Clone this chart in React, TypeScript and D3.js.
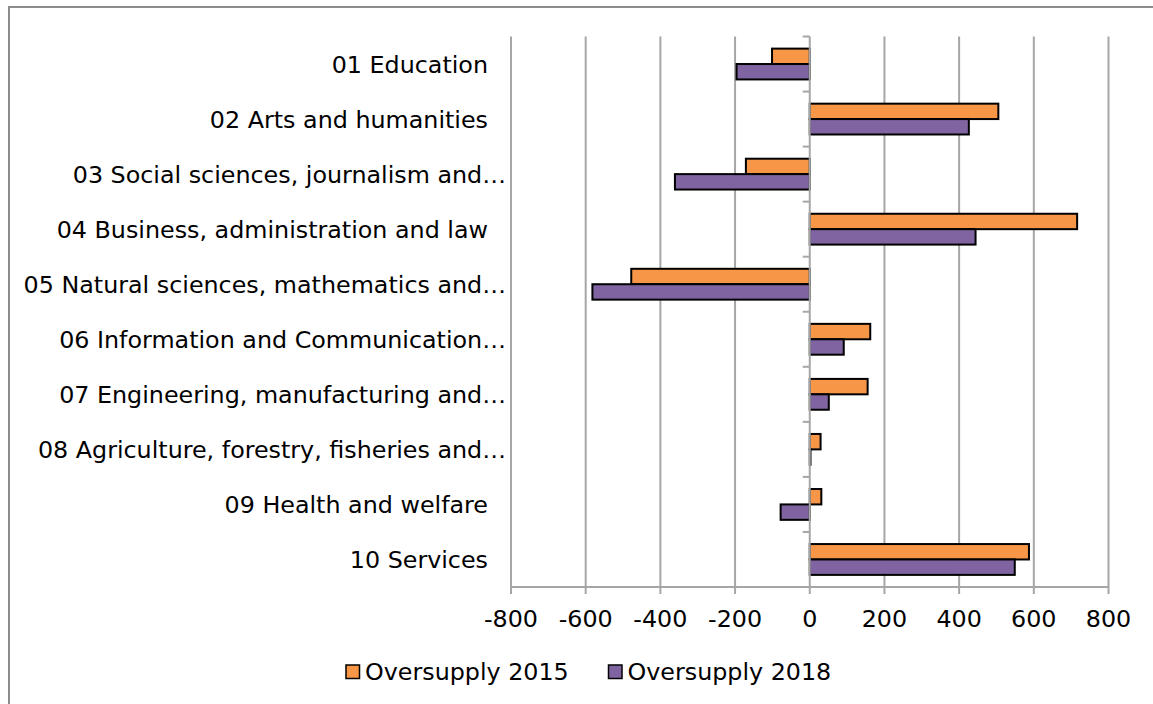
import { useEffect, useRef } from 'react';
import * as d3 from 'd3';

const categories = [
  '01 Education',
  '02 Arts and humanities',
  '03 Social sciences, journalism and…',
  '04 Business, administration and law',
  '05 Natural sciences, mathematics and…',
  '06 Information and Communication…',
  '07 Engineering, manufacturing and…',
  '08 Agriculture, forestry, fisheries and…',
  '09 Health and welfare',
  '10 Services',
];
const oversupply2015 = [-101, 505, -171, 716, -478, 162, 155, 29, 31, 587];
const oversupply2018 = [-196, 426, -361, 444, -582, 91, 51, 2, -78, 549];
const xTicks = [-800, -600, -400, -200, 0, 200, 400, 600, 800];
const seriesNames = ['Oversupply 2015', 'Oversupply 2018'];
const seriesColors = ['#F79646', '#8064A2'];

export default function App() {
  const svgRef = useRef<SVGSVGElement>(null);
  const width = 1153;
  const height = 704;

  useEffect(() => {
    if (!svgRef.current) return;
    const svg = d3.select(svgRef.current);
    svg.selectAll('*').remove();

    const font = "'DejaVu Sans', Verdana, sans-serif";
    const fontSize = '23.8px';
    const plot = { left: 511, right: 1108.5, top: 36.5, bottom: 587 };

    // outer chart frame (runs off the right/bottom edge)
    svg.append('rect')
      .attr('x', 9).attr('y', 7)
      .attr('width', width + 20).attr('height', height + 20)
      .attr('fill', '#fff')
      .attr('stroke', '#8c8c8c')
      .attr('stroke-width', 2);

    const x = d3.scaleLinear().domain([-800, 800]).range([plot.left, plot.right]);
    const y = d3.scaleBand().domain(categories).range([plot.top, plot.bottom])
      .paddingInner(0.44).paddingOuter(0.22);
    const ySub = d3.scaleBand().domain(seriesNames).range([0, y.bandwidth()]);
    const step = y.step();

    const g = svg.append('g');

    // vertical gridlines
    g.selectAll('line.grid')
      .data(xTicks.filter(t => t !== 0))
      .enter()
      .append('line')
      .attr('class', 'grid')
      .attr('x1', d => x(d)).attr('x2', d => x(d))
      .attr('y1', plot.top).attr('y2', plot.bottom)
      .attr('stroke', '#a6a6a6')
      .attr('stroke-width', 2);

    // bottom axis
    g.append('line')
      .attr('x1', x(-800)).attr('x2', x(800))
      .attr('y1', plot.bottom).attr('y2', plot.bottom)
      .attr('stroke', '#a6a6a6').attr('stroke-width', 2);
    g.selectAll('line.xtick')
      .data(xTicks)
      .enter()
      .append('line')
      .attr('class', 'xtick')
      .attr('x1', d => x(d)).attr('x2', d => x(d))
      .attr('y1', plot.bottom).attr('y2', plot.bottom + 7)
      .attr('stroke', '#a6a6a6').attr('stroke-width', 2);
    g.selectAll('text.xlabel')
      .data(xTicks)
      .enter()
      .append('text')
      .attr('class', 'xlabel')
      .attr('x', d => x(d))
      .attr('y', 627)
      .attr('text-anchor', 'middle')
      .style('font-family', font)
      .style('font-size', fontSize)
      .style('fill', '#000')
      .text(d => String(d));

    // bars
    const seriesValues = [oversupply2015, oversupply2018];
    seriesValues.forEach((vals, si) => {
      g.selectAll(`rect.s${si}`)
        .data(vals)
        .enter()
        .append('rect')
        .attr('class', `s${si}`)
        .attr('x', d => x(Math.min(0, d)))
        .attr('y', (_, i) => y(categories[i])! + ySub(seriesNames[si])!)
        .attr('width', d => Math.abs(x(d) - x(0)))
        .attr('height', ySub.bandwidth())
        .attr('fill', seriesColors[si])
        .attr('stroke', '#000')
        .attr('stroke-width', 2);
    });

    // zero axis with category ticks
    g.append('line')
      .attr('x1', x(0)).attr('x2', x(0))
      .attr('y1', plot.top).attr('y2', plot.bottom)
      .attr('stroke', '#a6a6a6').attr('stroke-width', 2);
    const catTicks = d3.range(categories.length + 1).map(i => plot.top + i * step);
    g.selectAll('line.ytick')
      .data(catTicks)
      .enter()
      .append('line')
      .attr('class', 'ytick')
      .attr('x1', x(0) - 7).attr('x2', x(0))
      .attr('y1', d => d).attr('y2', d => d)
      .attr('stroke', '#a6a6a6').attr('stroke-width', 2);

    // category labels
    g.selectAll('text.ylabel')
      .data(categories)
      .enter()
      .append('text')
      .attr('class', 'ylabel')
      .attr('x', d => (d.endsWith('…') ? 506 : 488))
      .attr('y', d => y(d)! + y.bandwidth() / 2)
      .attr('dy', '0.36em')
      .attr('text-anchor', 'end')
      .style('font-family', font)
      .style('font-size', fontSize)
      .style('fill', '#000')
      .text(d => d);

    // legend
    const legendX = [346, 608.5];
    seriesNames.forEach((name, i) => {
      const lg = svg.append('g').attr('transform', `translate(${legendX[i]},665)`);
      lg.append('rect')
        .attr('x', 0).attr('y', 0).attr('width', 13.5).attr('height', 13.5)
        .attr('fill', seriesColors[i])
        .attr('stroke', '#000').attr('stroke-width', 1.5);
      lg.append('text')
        .attr('x', 19).attr('y', 14.5)
        .style('font-family', font)
        .style('font-size', fontSize)
        .style('fill', '#000')
        .text(name);
    });
  }, []);

  return (
    <svg
      ref={svgRef}
      width={width}
      height={height}
      style={{ position: 'absolute', left: 0, top: 0, background: '#fff' }}
    />
  );
}
